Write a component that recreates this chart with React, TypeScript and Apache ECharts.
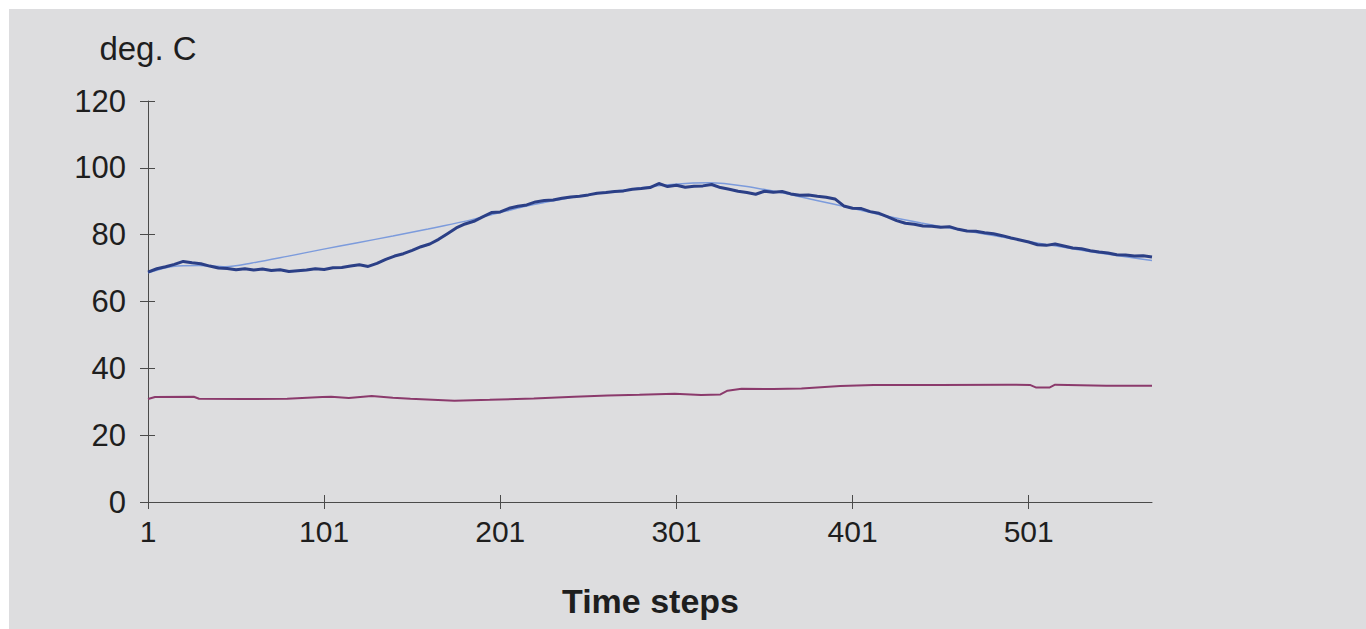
import React, { useEffect, useRef } from "react";
import * as echarts from "echarts";

// ---- data ----
const xTickSteps = [1, 101, 201, 301, 401, 501];
const yTicks = [0, 20, 40, 60, 80, 100, 120];
const lastStep = 571;
const sampleEvery = 5;

// measured temperature (dark blue, noisy), one value every 5 time steps from step 1
const measured = [
  68.8, 69.8, 70.4, 71.1, 72.0, 71.6, 71.3, 70.6, 70.0, 69.9,
  69.5, 69.8, 69.4, 69.7, 69.3, 69.5, 69.0, 69.2, 69.4, 69.8,
  69.6, 70.1, 70.2, 70.6, 71.0, 70.5, 71.4, 72.6, 73.6, 74.3,
  75.3, 76.4, 77.2, 78.6, 80.3, 82.0, 83.2, 84.0, 85.3, 86.6,
  86.8, 87.9, 88.5, 88.9, 89.8, 90.2, 90.4, 90.9, 91.3, 91.5,
  91.9, 92.4, 92.6, 92.9, 93.1, 93.6, 93.8, 94.1, 95.3, 94.4,
  94.8, 94.2, 94.5, 94.6, 95.0, 94.1, 93.6, 93.0, 92.6, 92.1,
  93.0, 92.7, 92.9, 92.2, 91.8, 91.9, 91.5, 91.2, 90.7, 88.6,
  87.9, 87.8, 86.9, 86.4, 85.3, 84.2, 83.4, 83.1, 82.6, 82.5,
  82.2, 82.4, 81.6, 81.1, 81.0, 80.6, 80.3, 79.7, 79.0, 78.4,
  77.8, 77.0, 76.8, 77.2, 76.6, 76.0, 75.8, 75.2, 74.8, 74.5,
  74.0, 73.9, 73.6, 73.7, 73.3,
];

// fitted temperature (light blue, smooth)
const fittedSteps = [1, 15, 30, 45, 60, 80, 100, 120, 140, 160, 180, 200, 220, 240, 260, 280, 300, 320, 340, 360, 380, 400, 420, 440, 460, 480, 500, 520, 540, 560, 571];
const fittedValues = [68.6, 70.5, 70.8, 70.4, 71.5, 73.5, 75.6, 77.6, 79.6, 81.7, 83.9, 86.5, 89.0, 91.0, 92.6, 94.0, 95.1, 95.5, 94.5, 92.6, 90.3, 88.0, 85.6, 83.5, 81.6, 79.8, 78.0, 76.3, 74.6, 73.1, 72.3];

// ambient temperature (magenta)
const ambientSteps = [1, 5, 27, 30, 55, 80, 100, 105, 115, 128, 140, 150, 175, 195, 220, 243, 262, 280, 300, 315, 326, 330, 338, 356, 372, 394, 413, 450, 489, 502, 505, 513, 516, 545, 571];
const ambientValues = [30.8, 31.4, 31.5, 30.9, 30.8, 30.9, 31.4, 31.5, 31.1, 31.7, 31.2, 30.9, 30.3, 30.6, 31.0, 31.5, 31.9, 32.1, 32.4, 32.0, 32.2, 33.3, 33.9, 33.8, 34.0, 34.7, 35.0, 35.0, 35.1, 35.0, 34.3, 34.3, 35.1, 34.8, 34.8];

const yName = "deg. C";
const xName = "Time steps";

const FONT = "'Liberation Sans', Arial, sans-serif";
const TEXT = "#1e1e1e";
const AXIS = "#4a4a4a";

export default function App() {
  const ref = useRef<HTMLDivElement>(null);
  useEffect(() => {
    if (!ref.current) return;
    const chart = echarts.init(ref.current, null, { renderer: "svg" });

    const measuredData = measured.map((v, i) => [Math.min(1 + i * sampleEvery, lastStep), v]);
    const fittedData = fittedSteps.map((s, i) => [s, fittedValues[i]]);
    const ambientData = ambientSteps.map((s, i) => [s, ambientValues[i]]);

    const xBase = {
      type: "value" as const,
      min: 1,
      max: lastStep,
      position: "bottom" as const,
      splitLine: { show: false },
    };
    const yBase = {
      type: "value" as const,
      min: 0,
      max: 120,
      interval: 20,
      position: "left" as const,
      splitLine: { show: false },
    };

    chart.setOption({
      animation: false,
      backgroundColor: "#ffffff",
      graphic: [
        {
          type: "rect",
          z: -10,
          shape: { x: 9, y: 9, width: 1366 - 9, height: 629 - 9 },
          style: { fill: "#dddddf" },
          silent: true,
        },
        {
          type: "text",
          left: 562,
          top: 584,
          style: { text: xName, font: `bold 34px ${FONT}`, fill: TEXT },
        },
      ],
      grid: { left: 148, right: 214, top: 101, bottom: 127 },
      xAxis: [
        {
          ...xBase,
          axisLine: { show: true, lineStyle: { color: AXIS, width: 1 } },
          axisTick: { show: true, inside: false, length: 7, customValues: xTickSteps, lineStyle: { color: AXIS } },
          axisLabel: {
            show: true,
            customValues: xTickSteps,
            margin: 14,
            fontSize: 30,
            fontFamily: FONT,
            color: TEXT,
          },
        },
        {
          ...xBase,
          axisLine: { show: false },
          axisTick: { show: true, inside: true, length: 7, customValues: xTickSteps, lineStyle: { color: AXIS } },
          axisLabel: { show: false },
        },
      ],
      yAxis: [
        {
          ...yBase,
          name: yName,
          nameLocation: "end",
          nameGap: 36,
          nameTextStyle: { fontSize: 33, fontFamily: FONT, color: TEXT, align: "center", padding: [0, 0, 0, 0] },
          axisLine: { show: true, lineStyle: { color: AXIS, width: 1 } },
          axisTick: { show: true, inside: false, length: 8, lineStyle: { color: AXIS } },
          axisLabel: {
            show: true,
            margin: 22,
            fontSize: 31,
            fontFamily: FONT,
            color: TEXT,
            customValues: yTicks,
          },
        },
        {
          ...yBase,
          axisLine: { show: false },
          axisTick: { show: true, inside: true, length: 7, lineStyle: { color: AXIS } },
          axisLabel: { show: false },
        },
      ],
      series: [
        {
          name: "fitted",
          type: "line",
          data: fittedData,
          showSymbol: false,
          smooth: 0.3,
          lineStyle: { color: "#7c9bdc", width: 1.5 },
          z: 2,
        },
        {
          name: "measured",
          type: "line",
          data: measuredData,
          showSymbol: false,
          lineStyle: { color: "#2b3f86", width: 3 },
          z: 3,
        },
        {
          name: "ambient",
          type: "line",
          data: ambientData,
          showSymbol: false,
          lineStyle: { color: "#8b3a6c", width: 2 },
          z: 3,
        },
      ],
    });
    return () => chart.dispose();
  }, []);
  return (
    <div
      ref={ref}
      style={{ position: "fixed", left: 0, top: 0, width: 1366, height: 629 }}
    />
  );
}
